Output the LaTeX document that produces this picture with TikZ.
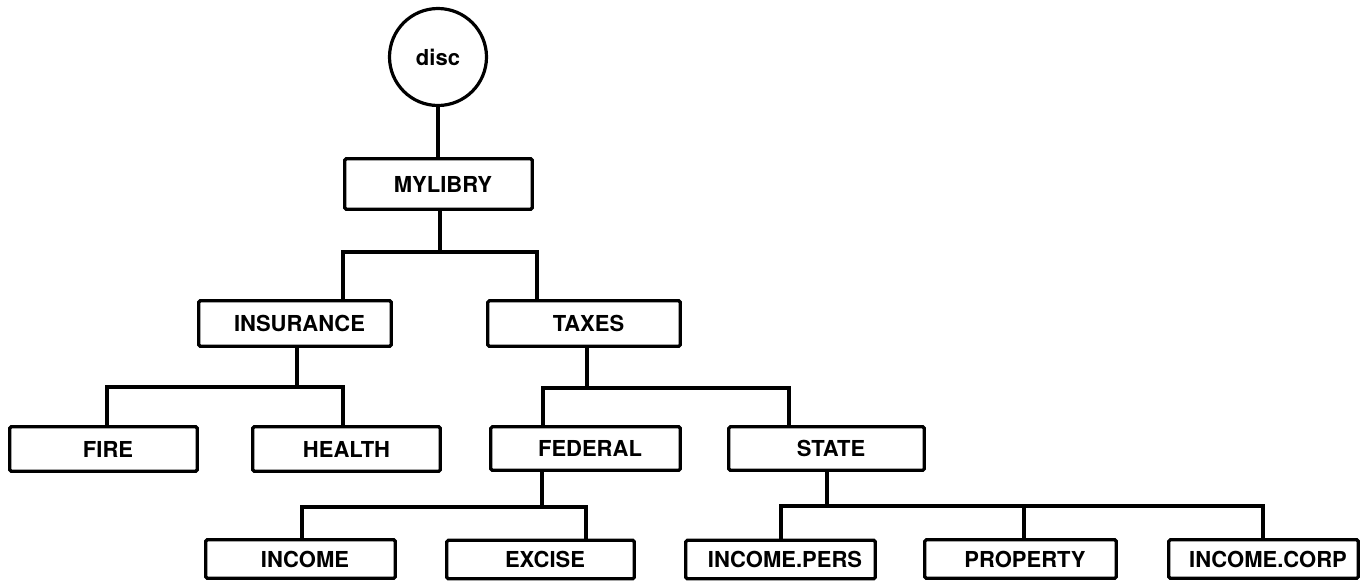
\documentclass[tikz,border=0pt]{standalone}
\usepackage{fontspec}
\setmainfont{TeX Gyre Heros}
% labels sit a little right of the box centre
\newcommand{\offlbl}[1]{\hspace*{9pt}#1}
\begin{document}
\begin{tikzpicture}[x=1pt,y=-1pt,
  every node/.style={font=\fontsize{22}{24}\selectfont\bfseries, inner sep=0pt},
  dirbox/.style={draw, line width=3.2pt, rounded corners=1.5pt, rectangle},
  root/.style={draw, line width=3.2pt, circle, minimum size=97pt},
  link/.style={line width=3.2pt, line join=miter}]
\useasboundingbox (0,0) rectangle (1363,582);

% root and directory boxes
\node[root] (disc) at (438,57) {disc};
\node[dirbox, minimum width=187.5pt, minimum height=50.5pt] (mylibry) at (438.5,184) {\offlbl{MYLIBRY}};
\node[dirbox, minimum width=192.5pt, minimum height=45.5pt] (insurance) at (295,323.5) {\offlbl{INSURANCE}};
\node[dirbox, minimum width=192.5pt, minimum height=45.5pt] (taxes) at (584,323.5) {\offlbl{TAXES}};
\node[dirbox, minimum width=187.5pt, minimum height=44.5pt] (fire) at (103.5,449) {\offlbl{FIRE}};
\node[dirbox, minimum width=187.5pt, minimum height=44.5pt] (health) at (346.5,449) {HEALTH};
\node[dirbox, minimum width=189.5pt, minimum height=43.5pt] (federal) at (585.5,448.5) {\offlbl{FEDERAL}};
\node[dirbox, minimum width=195.5pt, minimum height=43.5pt] (state) at (826.5,448.5) {\offlbl{STATE}};
\node[dirbox, minimum width=189.5pt, minimum height=38.5pt] (income) at (300.5,559) {\offlbl{INCOME}};
\node[dirbox, minimum width=187.5pt, minimum height=38.5pt] (excise) at (540.5,559.5) {\offlbl{EXCISE}};
\node[dirbox, minimum width=189.5pt, minimum height=38.5pt] (incpers) at (780.5,559.5) {\offlbl{INCOME.PERS}};
\node[dirbox, minimum width=191.5pt, minimum height=38.5pt] (property) at (1020.5,559) {\offlbl{PROPERTY}};
\node[dirbox, minimum width=189.5pt, minimum height=38.5pt] (inccorp) at (1263.5,559) {\offlbl{INCOME.CORP}};

% bus points: parent stems and child drops
\coordinate (mylibry-bus) at (440,252);
\coordinate (insurance-in) at (343,252);
\coordinate (taxes-in) at (537,252);
\coordinate (insurance-bus) at (297,387);
\coordinate (fire-in) at (107,387);
\coordinate (health-in) at (343,387);
\coordinate (taxes-bus) at (587,388);
\coordinate (federal-in) at (543,388);
\coordinate (state-in) at (789,388);
\coordinate (federal-bus) at (542,507);
\coordinate (income-in) at (302,507);
\coordinate (excise-in) at (586,507);
\coordinate (state-bus) at (827,506);
\coordinate (incpers-in) at (781,506);
\coordinate (property-in) at (1024,506);
\coordinate (inccorp-in) at (1263,506);

% connectors
\draw[link] (disc.south) -- (disc.south |- mylibry.north);

\draw[link] (mylibry-bus |- mylibry.south) -- (mylibry-bus);
\draw[link] (insurance-in |- insurance.north) -- (insurance-in) -- (taxes-in) -- (taxes-in |- taxes.north);

\draw[link] (insurance-bus |- insurance.south) -- (insurance-bus);
\draw[link] (fire-in |- fire.north) -- (fire-in) -- (health-in) -- (health-in |- health.north);

\draw[link] (taxes-bus |- taxes.south) -- (taxes-bus);
\draw[link] (federal-in |- federal.north) -- (federal-in) -- (state-in) -- (state-in |- state.north);

\draw[link] (federal-bus |- federal.south) -- (federal-bus);
\draw[link] (income-in |- income.north) -- (income-in) -- (excise-in) -- (excise-in |- excise.north);

\draw[link] (state-bus |- state.south) -- (state-bus);
\draw[link] (incpers-in |- incpers.north) -- (incpers-in) -- (inccorp-in) -- (inccorp-in |- inccorp.north);
\draw[link] (property-in) -- (property-in |- property.north);
\end{tikzpicture}
\end{document}
